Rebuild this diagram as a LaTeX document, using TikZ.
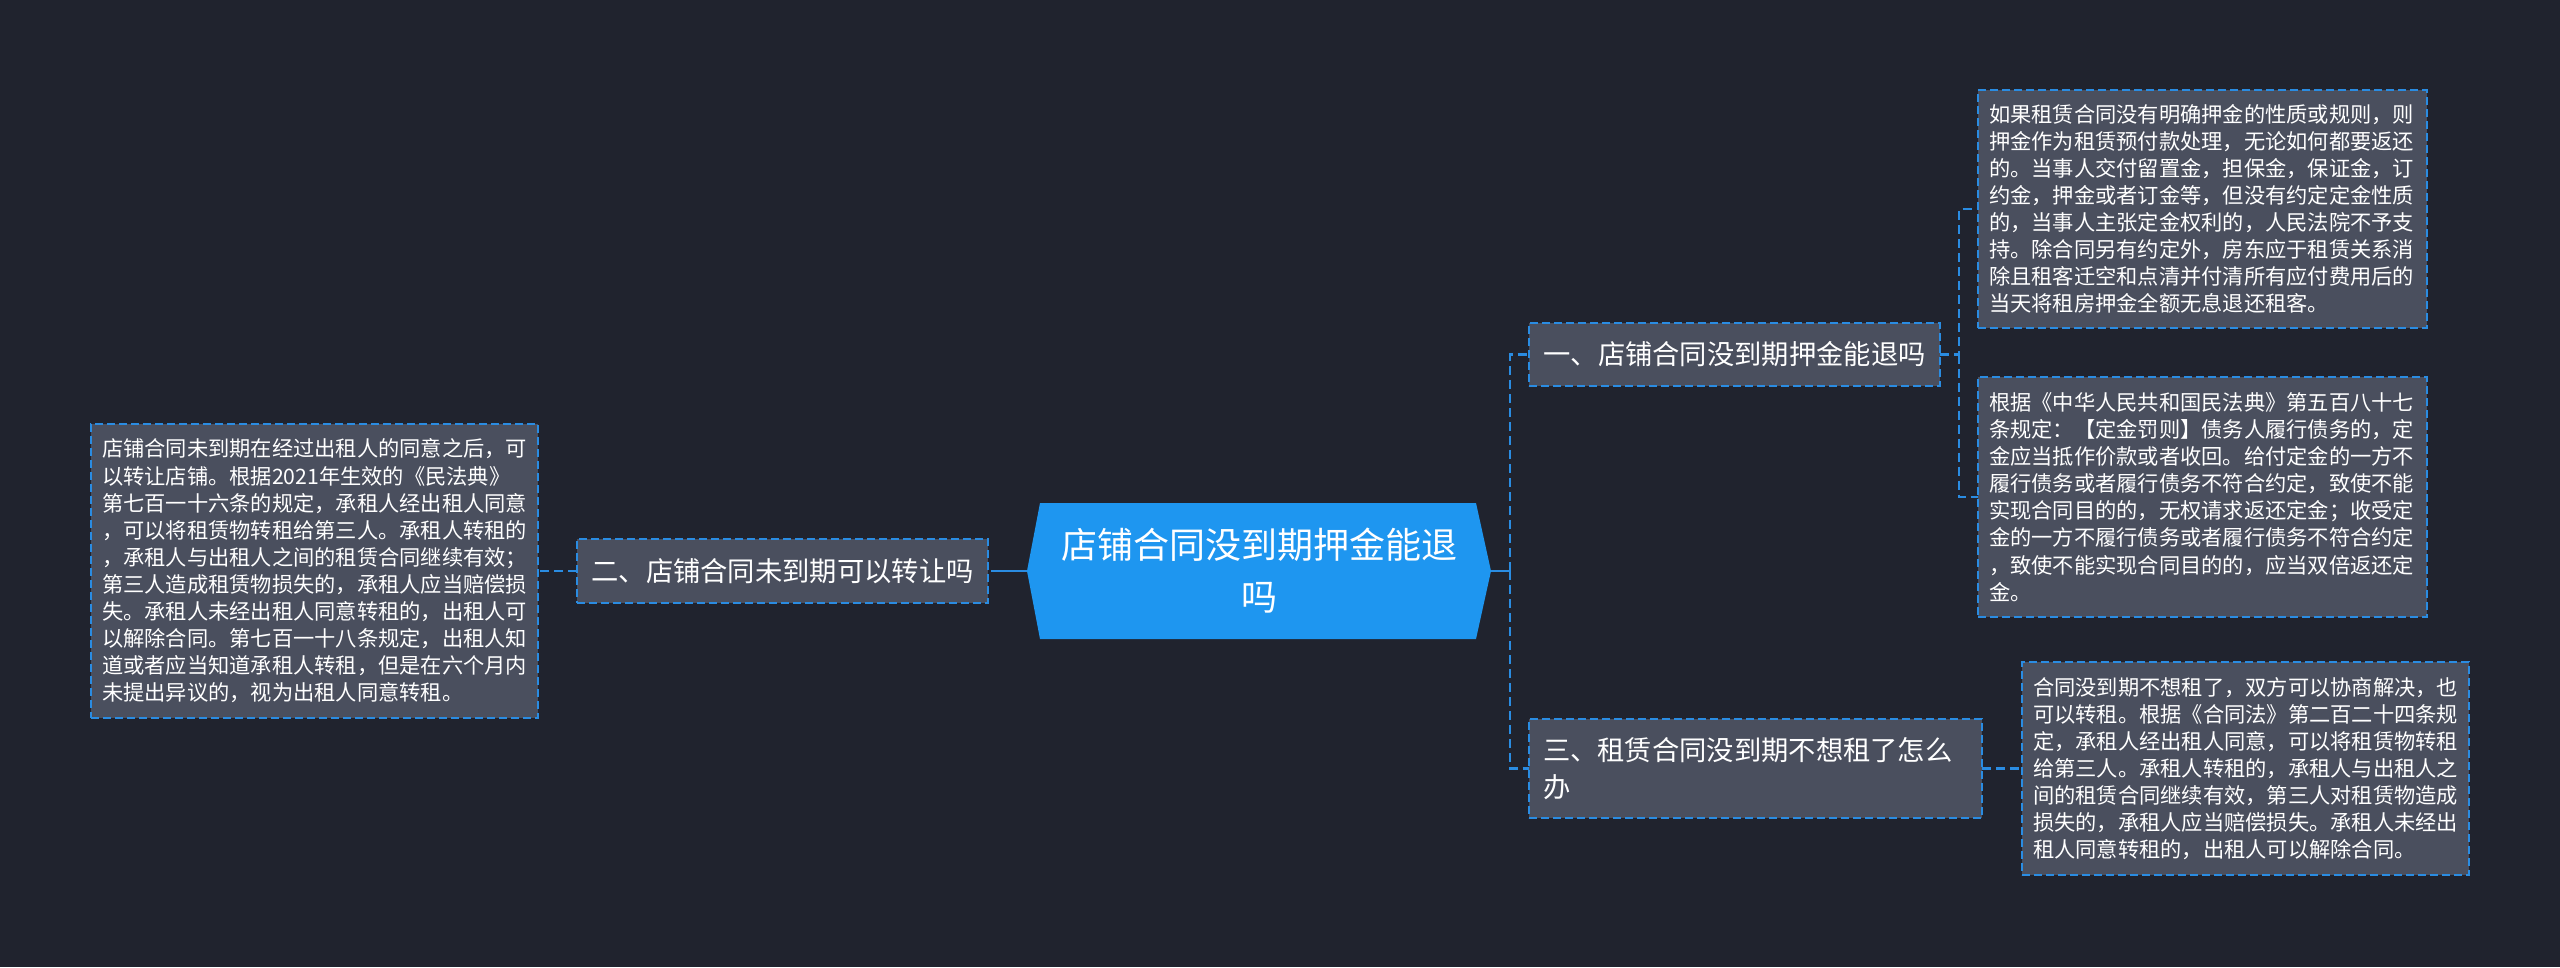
\documentclass[tikz,border=0pt]{standalone}
\usepackage{fontspec}
\setmainfont{Noto Sans CJK SC}
\usetikzlibrary{calc}
\definecolor{bg}{HTML}{20232E}
\definecolor{cblue}{HTML}{1E96F0}
\definecolor{lblue}{HTML}{2A8CE2}
\definecolor{boxfill}{HTML}{4A4F5E}
\tikzset{
  boxbase/.style={draw=lblue, dash pattern=on 8pt off 4pt, line width=1.8pt, fill=boxfill, text=white, align=left, inner ysep=0pt, outer sep=0pt},
  leaf/.style={boxbase, font=\fontsize{21.25pt}{27.1pt}\selectfont, inner xsep=11pt},
  mid/.style={boxbase, font=\fontsize{27.3pt}{37pt}\selectfont, inner xsep=14pt},
  conn/.style={draw=lblue, line width=2.5pt, dash pattern=on 9pt off 5pt},
  stub/.style={draw=lblue, line width=2.5pt},
}
\begin{document}
\begin{tikzpicture}[x=1pt,y=-1pt]
\useasboundingbox (0,0) rectangle (2560,967);
\fill[bg] (0,0) rectangle (2560,967);

% central node
\node[minimum width=464pt, minimum height=136pt, inner sep=0pt, outer sep=0pt] (c) at (1259,571) {};
\fill[cblue] (c.west) -- ([xshift=13pt]c.north west) -- ([xshift=-15pt]c.north east) -- (c.east)
  -- ([xshift=-15pt]c.south east) -- ([xshift=13pt]c.south west) -- cycle;
\node[text=white, align=center, font=\fontsize{36pt}{52pt}\selectfont] (ct) at (c.center) {店铺合同没到期押金能退\\吗};

% middle nodes
\node[mid, minimum width=411pt, minimum height=63pt] (n1) at (1734.5,354.5) {一、店铺合同没到期押金能退吗};
\node[mid, minimum width=411pt, minimum height=64pt] (n2) at (782.5,571) {二、店铺合同未到期可以转让吗};
\node[mid, minimum width=453pt, minimum height=99pt, text width=425pt] (n3) at (1755.5,768.5) {三、租赁合同没到期不想租了怎么\\办};

% leaf nodes
\node[leaf, minimum width=447pt, minimum height=294pt, text width=425pt] (lb) at (314.5,571) {店铺合同未到期在经过出租人的同意之后，可\\以转让店铺。根据2021年生效的《民法典》\\第七百一十六条的规定，承租人经出租人同意\\，可以将租赁物转租给第三人。承租人转租的\\，承租人与出租人之间的租赁合同继续有效；\\第三人造成租赁物损失的，承租人应当赔偿损\\失。承租人未经出租人同意转租的，出租人可\\以解除合同。第七百一十八条规定，出租人知\\道或者应当知道承租人转租，但是在六个月内\\未提出异议的，视为出租人同意转租。};
\node[leaf, minimum width=449pt, minimum height=238pt, text width=427pt] (r1) at (2202.5,209) {如果租赁合同没有明确押金的性质或规则，则\\押金作为租赁预付款处理，无论如何都要返还\\的。当事人交付留置金，担保金，保证金，订\\约金，押金或者订金等，但没有约定定金性质\\的，当事人主张定金权利的，人民法院不予支\\持。除合同另有约定外，房东应于租赁关系消\\除且租客迁空和点清并付清所有应付费用后的\\当天将租房押金全额无息退还租客。};
\node[leaf, minimum width=449pt, minimum height=240pt, text width=427pt] (r2) at (2202.5,497) {根据《中华人民共和国民法典》第五百八十七\\条规定：【定金罚则】债务人履行债务的，定\\金应当抵作价款或者收回。给付定金的一方不\\履行债务或者履行债务不符合约定，致使不能\\实现合同目的的，无权请求返还定金；收受定\\金的一方不履行债务或者履行债务不符合约定\\，致使不能实现合同目的的，应当双倍返还定\\金。};
\node[leaf, minimum width=447pt, minimum height=213pt, text width=425pt] (r3) at (2245.5,768.5) {合同没到期不想租了，双方可以协商解决，也\\可以转租。根据《合同法》第二百二十四条规\\定，承租人经出租人同意，可以将租赁物转租\\给第三人。承租人转租的，承租人与出租人之\\间的租赁合同继续有效，第三人对租赁物造成\\损失的，承租人应当赔偿损失。承租人未经出\\租人同意转租的，出租人可以解除合同。};

% connectors
\coordinate (cl) at ([xshift=-27pt]c.west);
\coordinate (cr) at ([xshift=19pt]c.east);
\coordinate (j1) at ([xshift=19pt]n1.east);
\draw[stub] (c.west) -- (cl);
\draw[conn] (cl) -- (n2.east);
\draw[conn] (n2.west) -- (lb.east);
\draw[stub] (c.east) -- (cr);
\draw[conn] (cr) |- (n1.west);
\draw[conn] (cr) |- (n3.west);
\draw[conn] (n1.east) -- (j1) |- (r1.west);
\draw[conn] (j1) |- (r2.west);
\draw[conn] (n3.east) -- (r3.west);
\end{tikzpicture}
\end{document}
